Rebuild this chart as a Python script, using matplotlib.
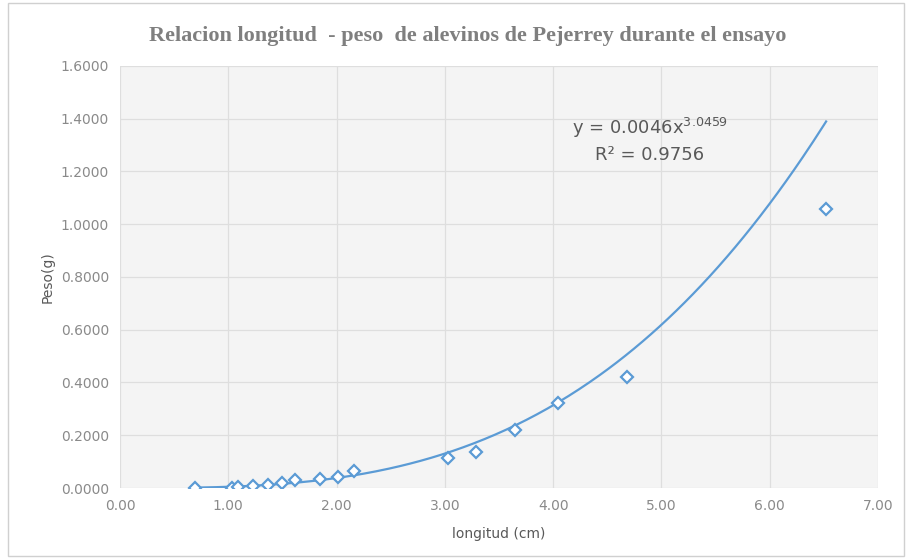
import numpy as np
import matplotlib
matplotlib.use('Agg')
import matplotlib.pyplot as plt
from matplotlib.patches import Rectangle

# measured points: longitud (cm) vs peso (g)
longitud = [0.69, 1.03, 1.09, 1.23, 1.37, 1.50, 1.62, 1.85, 2.01, 2.16,
            3.03, 3.29, 3.65, 4.04, 4.68, 6.52]
peso = [0.000, 0.000, 0.002, 0.008, 0.010, 0.020, 0.030, 0.035, 0.043, 0.064,
        0.114, 0.136, 0.220, 0.322, 0.420, 1.058]

# power trend line reported in the chart
coef_a = 0.0046
coef_b = 3.0459
r2 = 0.9756

BLUE = '#5B9BD5'
GRAY = '#8a8a8a'

fig = plt.figure(figsize=(9.09, 5.59), dpi=100)
ax = fig.add_axes([0.132, 0.127, 0.834, 0.755])

ax.set_facecolor('#f4f4f4')
ax.grid(True, color='#dedede', lw=0.9)
ax.set_axisbelow(True)

xs = np.linspace(min(longitud), max(longitud), 300)
ax.plot(xs, coef_a * xs ** coef_b, color=BLUE, lw=1.6, zorder=2)
ax.plot(longitud, peso, ls='none', marker='D', ms=6.5, mfc='white',
        mec=BLUE, mew=1.6, zorder=3)

ax.set_xlim(0, 7)
ax.set_ylim(0, 1.6)
ax.set_xticks(np.arange(0, 7.01, 1.0))
ax.set_yticks(np.arange(0, 1.61, 0.2))
ax.xaxis.set_major_formatter(matplotlib.ticker.FormatStrFormatter('%.2f'))
ax.yaxis.set_major_formatter(matplotlib.ticker.FormatStrFormatter('%.4f'))
ax.tick_params(length=0, colors=GRAY, labelsize=10, pad=8)
for s in ax.spines.values():
    s.set_visible(False)

ax.text(4.89, 1.365, r'y = 0.0046x$^{3.0459}$', ha='center', va='center',
        fontsize=13, color='#595959')
ax.text(4.89, 1.262, f'R² = {r2}', ha='center', va='center',
        fontsize=13, color='#595959')

ax.set_xlabel('longitud (cm)', fontsize=10, color='#595959', labelpad=10)
ax.set_ylabel('Peso(g)', fontsize=10, color='#595959', labelpad=4)

fig.text(0.515, 0.935,
         'Relacion longitud  - peso  de alevinos de Pejerrey durante el ensayo',
         ha='center', va='center', fontsize=16, fontweight='bold',
         family='Liberation Serif', color='#7f7f7f')

fig.patches.append(Rectangle((0.009, 0.005), 0.985, 0.99, transform=fig.transFigure,
                             fill=False, ec='#d0d0d0', lw=1.0))

fig.savefig('out.png', dpi=100)
